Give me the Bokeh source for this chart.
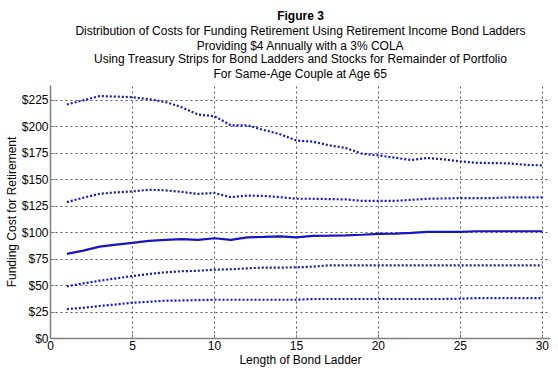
from bokeh.plotting import figure
from bokeh.models import Range1d, FixedTicker, NumeralTickFormatter, Title
from bokeh.embed import file_html
from bokeh.resources import INLINE

ladder_years = list(range(1, 31))
pct95 = [221, 225, 229, 228.5, 228, 226, 223.5, 218.5, 211.5, 210, 201.4, 201.4, 197, 193,
         187, 186, 182.5, 180, 174.6, 173, 170.8, 168.6, 170.5, 169.2, 167.3, 166, 165.7, 165.4, 164, 163.5]
pct75 = [128.8, 133, 136.7, 138, 139, 140.5, 140, 138.5, 136.6, 137.5, 133.5, 135, 134.7, 133.5,
         132, 132, 131.7, 131.4, 130, 130, 130, 131, 132, 132.3, 132.7, 132.7, 132.7, 133.3, 133.3, 133.3]
median = [79.9, 83, 86.8, 88.7, 90.3, 92.2, 93.2, 93.8, 93.2, 94.7, 93.2, 95.6, 96, 96.5,
          95.6, 97, 97.2, 97.5, 98, 98.8, 99, 99.8, 100.7, 100.7, 100.7, 101.3, 101.3, 101.3, 101.3, 101.3]
pct25 = [49.3, 52, 54.6, 56.8, 59, 61, 62.5, 63.5, 64, 65, 65.4, 66.3, 67, 67,
         67.2, 67.9, 69.1, 69, 69, 69, 69, 69, 69, 69, 69, 69, 69, 69, 69, 69]
pct5 = [27.8, 29, 30.7, 32.2, 33.8, 34.7, 35.7, 35.9, 36.3, 36.6, 36.6, 36.6, 36.6, 36.6,
        36.6, 37.3, 37.3, 37.3, 37.3, 37.3, 37.3, 37.3, 37.3, 37.3, 37.6, 38.2, 38.2, 38.2, 38.2, 38.2]

x_ticks = [0, 5, 10, 15, 20, 25, 30]
y_ticks = [0, 25, 50, 75, 100, 125, 150, 175, 200, 225]

title_head = "Figure 3"
title_body = [
    "Distribution of Costs for Funding Retirement Using Retirement Income Bond Ladders",
    "Providing $4 Annually with a 3% COLA",
    "Using Treasury Strips for Bond Ladders and Stocks for Remainder of Portfolio",
    "For Same-Age Couple at Age 65",
]

FONT = "Liberation Sans"
BLUE = "#1414c8"

p = figure(width=558, height=377, output_backend="svg", toolbar_location=None,
           x_range=Range1d(0, 30.5), y_range=Range1d(0, 239),
           min_border_left=50, min_border_right=8, min_border_bottom=39, min_border_top=85,
           background_fill_color="white", border_fill_color="white")
p.outline_line_color = None
p.title.text = ""

# small spacer between the frame and the last title line
p.add_layout(Title(text=" ", text_font_size="1px", standoff=1), "above")

standoffs = [1, -3, -2, -1]
for line, so in zip(reversed(title_body), standoffs):
    p.add_layout(Title(text=line, align="center", text_font=FONT, text_font_size="12px",
                       text_font_style="normal", text_color="black",
                       standoff=so, offset=0), "above")
p.add_layout(Title(text=title_head, align="center", text_font=FONT, text_font_size="12px",
                   text_font_style="bold", text_color="black", standoff=0, offset=0), "above")

lines = [pct5, pct25, pct75, pct95]
for ys in lines:
    p.line(ladder_years, ys, line_color=BLUE, line_width=2.2, line_dash="2 2")
p.line(ladder_years, median, line_color=BLUE, line_width=2.2)

p.xaxis.ticker = FixedTicker(ticks=x_ticks)
p.yaxis.ticker = FixedTicker(ticks=y_ticks)
p.yaxis.formatter = NumeralTickFormatter(format="$0")
for ax in (p.xaxis, p.yaxis):
    ax.axis_line_color = "#808080"
    ax.axis_line_width = 1.5
    ax.major_tick_in = 4
    ax.major_tick_out = 0
    ax.major_tick_line_color = "#808080"
    ax.minor_tick_line_color = None
    ax.major_label_text_font = FONT
    ax.major_label_text_font_size = "12px"
    ax.major_label_text_color = "black"
    ax.axis_label_text_font = FONT
    ax.axis_label_text_font_size = "12px"
    ax.axis_label_text_font_style = "normal"
    ax.axis_label_text_color = "black"
p.xaxis.axis_label = "Length of Bond Ladder"
p.yaxis.axis_label = "Funding Cost for Retirement"
p.xaxis.major_label_standoff = 2
p.yaxis.major_label_standoff = 2
p.xaxis.axis_label_standoff = 0
p.yaxis.axis_label_standoff = 0

for g in (p.xgrid, p.ygrid):
    g.grid_line_color = "#444444"
    g.grid_line_dash = "2 3"
    g.grid_line_width = 1
    g.grid_line_alpha = 0.9

open("out.html", "w").write(file_html(p, INLINE))
